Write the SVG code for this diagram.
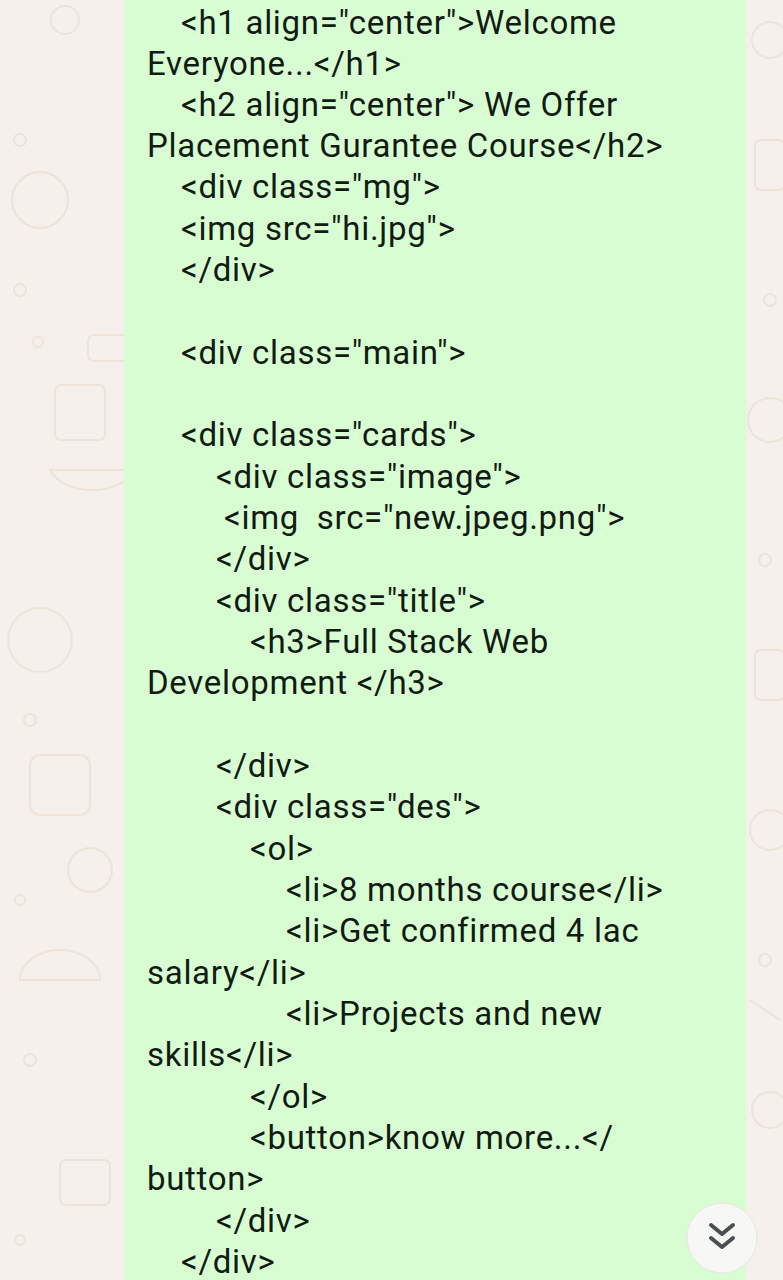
<svg xmlns="http://www.w3.org/2000/svg" width="783" height="1280" viewBox="0 0 783 1280">
<style>
.t{font-family:Roboto,"Liberation Sans",sans-serif;font-size:33px;letter-spacing:0.7px;fill:#111b12;white-space:pre}
.d{fill:none;stroke:#eee3d8;stroke-width:2}
</style>
<rect width="783" height="1280" fill="#f5f0eb"/>
<g id="doodles" class="d">
<circle cx="65" cy="20" r="14"/><circle cx="20" cy="140" r="6"/><circle cx="40" cy="200" r="28"/>
<circle cx="20" cy="290" r="6"/><circle cx="38" cy="342" r="5"/><rect x="88" y="335" width="40" height="26" rx="6"/>
<rect x="55" y="385" width="50" height="55" rx="6"/><path d="M50 470 a45 30 0 0 0 85 0z"/>
<circle cx="40" cy="640" r="32"/><circle cx="30" cy="720" r="6"/><rect x="30" y="755" width="60" height="60" rx="10"/>
<circle cx="90" cy="870" r="22"/><circle cx="20" cy="900" r="5"/><path d="M20 980 a40 30 0 0 1 80 0z"/>
<circle cx="30" cy="1060" r="6"/><rect x="60" y="1160" width="50" height="45" rx="6"/><circle cx="20" cy="1240" r="5"/>
<circle cx="770" cy="40" r="18"/><rect x="755" y="140" width="30" height="50" rx="6"/><circle cx="770" cy="300" r="6"/>
<circle cx="770" cy="420" r="22"/><circle cx="765" cy="560" r="6"/><rect x="755" y="650" width="30" height="50" rx="6"/>
<circle cx="770" cy="830" r="20"/><circle cx="765" cy="960" r="6"/><path d="M750 1000 l30 20"/><circle cx="770" cy="1110" r="18"/>
</g>
<rect id="bubble" x="124" y="-10" width="622" height="1300" fill="#d9fdd3"/>
<g id="code">
<text class="t" x="181" y="34">&lt;h1 align="center"&gt;Welcome</text>
<text class="t" x="147" y="75">Everyone...&lt;/h1&gt;</text>
<text class="t" x="181" y="116">&lt;h2 align="center"&gt; We Offer</text>
<text class="t" x="147" y="157">Placement Gurantee Course&lt;/h2&gt;</text>
<text class="t" x="181" y="198">&lt;div class="mg"&gt;</text>
<text class="t" x="181" y="240">&lt;img src="hi.jpg"&gt;</text>
<text class="t" x="181" y="281">&lt;/div&gt;</text>
<text class="t" x="181" y="364">&lt;div class="main"&gt;</text>
<text class="t" x="181" y="446">&lt;div class="cards"&gt;</text>
<text class="t" x="216" y="488">&lt;div class="image"&gt;</text>
<text class="t" x="224" y="529">&lt;img  src="new.jpeg.png"&gt;</text>
<text class="t" x="216" y="570">&lt;/div&gt;</text>
<text class="t" x="216" y="612">&lt;div class="title"&gt;</text>
<text class="t" x="250" y="653">&lt;h3&gt;Full Stack Web</text>
<text class="t" x="147" y="694">Development &lt;/h3&gt;</text>
<text class="t" x="216" y="777">&lt;/div&gt;</text>
<text class="t" x="216" y="818">&lt;div class="des"&gt;</text>
<text class="t" x="250" y="860">&lt;ol&gt;</text>
<text class="t" x="286" y="901">&lt;li&gt;8 months course&lt;/li&gt;</text>
<text class="t" x="286" y="942">&lt;li&gt;Get confirmed 4 lac</text>
<text class="t" x="147" y="984">salary&lt;/li&gt;</text>
<text class="t" x="286" y="1025">&lt;li&gt;Projects and new</text>
<text class="t" x="147" y="1066">skills&lt;/li&gt;</text>
<text class="t" x="250" y="1108">&lt;/ol&gt;</text>
<text class="t" x="250" y="1149">&lt;button&gt;know more...&lt;/</text>
<text class="t" x="147" y="1190">button&gt;</text>
<text class="t" x="216" y="1232">&lt;/div&gt;</text>
<text class="t" x="181" y="1273">&lt;/div&gt;</text>
</g>
<g id="scroll-button">
<circle cx="722" cy="1238" r="35" fill="#f7f7f5" stroke="#e6e6e2" stroke-width="1"/>
<path d="M711 1225 l11 9 l11 -9 M711 1238 l11 9 l11 -9" fill="none" stroke="#4a4f52" stroke-width="4" stroke-linecap="round" stroke-linejoin="round"/>
</g>
</svg>
